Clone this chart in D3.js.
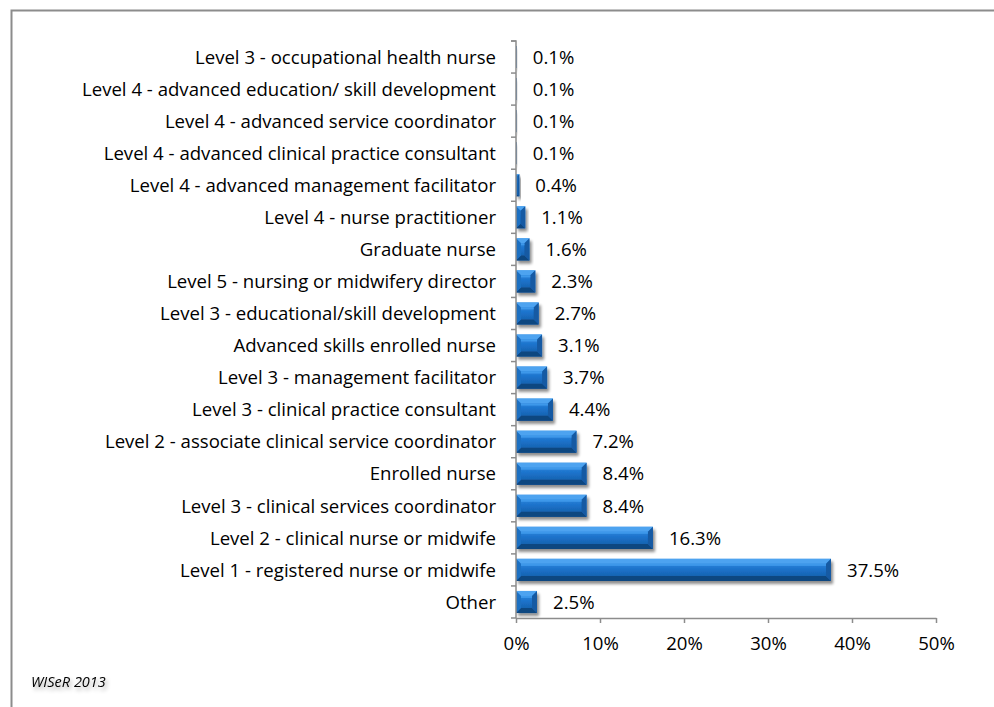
<!DOCTYPE html>
<html>
<head>
<meta charset="utf-8">
<script src="https://cdn.jsdelivr.net/npm/d3@7"></script>
<style>
  body { margin: 0; background: #fff; }
  text { font-family: "Open Sans", "Noto Sans", sans-serif; }
</style>
</head>
<body>
<div id="chart"></div>
<script>
// Data (top to bottom, as shown)

let categories = [
  "Level 3 - occupational health nurse",
  "Level 4 - advanced education/ skill development",
  "Level 4 - advanced service coordinator",
  "Level 4 - advanced clinical practice consultant",
  "Level 4 - advanced management facilitator",
  "Level 4 - nurse practitioner",
  "Graduate nurse",
  "Level 5 - nursing or midwifery director",
  "Level 3 - educational/skill development",
  "Advanced skills enrolled nurse",
  "Level 3 - management facilitator",
  "Level 3 - clinical practice consultant",
  "Level 2 - associate clinical service coordinator",
  "Enrolled nurse",
  "Level 3 - clinical services coordinator",
  "Level 2 - clinical nurse or midwife",
  "Level 1 - registered nurse or midwife",
  "Other"
];
let values = [0.1, 0.1, 0.1, 0.1, 0.4, 1.1, 1.6, 2.3, 2.7, 3.1, 3.7, 4.4, 7.2, 8.4, 8.4, 16.3, 37.5, 2.5];
let x_ticks = [0, 10, 20, 30, 40, 50];
let source_note = "WISeR 2013";

// Canvas

let width = 994;
let height = 707;
let plot = { left: 516, right: 936, top: 41, bottom: 618 };
let font_size = 18.6;

let svg = d3.select('#chart')
  .append('svg')
  .attr('width', width)
  .attr('height', height);

// chart border (only top and left visible)
svg.append('path')
  .attr('d', `M11.5,${height} L11.5,10.5 L${width},10.5`)
  .attr('fill', 'none')
  .attr('stroke', '#8c8c8c')
  .attr('stroke-width', 2);

// gradients and shadow
let defs = svg.append('defs');
let grad = defs.append('linearGradient')
  .attr('id', 'barface').attr('x1', 0).attr('y1', 0).attr('x2', 0).attr('y2', 1);
grad.append('stop').attr('offset', '0%').attr('stop-color', '#3a93e6');
grad.append('stop').attr('offset', '45%').attr('stop-color', '#1c73cc');
grad.append('stop').attr('offset', '100%').attr('stop-color', '#14599f');

let shadow = defs.append('filter').attr('id', 'shadow')
  .attr('x', '-20%').attr('y', '-30%').attr('width', '150%').attr('height', '180%');
shadow.append('feGaussianBlur').attr('in', 'SourceAlpha').attr('stdDeviation', 1.8);
shadow.append('feOffset').attr('dx', 2).attr('dy', 3).attr('result', 'b');
shadow.append('feComponentTransfer').append('feFuncA').attr('type', 'linear').attr('slope', 0.45);
let merge = shadow.append('feMerge');
merge.append('feMergeNode');
merge.append('feMergeNode').attr('in', 'SourceGraphic');

let textShadow = defs.append('filter').attr('id', 'tshadow')
  .attr('x', '-20%').attr('y', '-40%').attr('width', '150%').attr('height', '200%');
textShadow.append('feGaussianBlur').attr('in', 'SourceAlpha').attr('stdDeviation', 2);
textShadow.append('feOffset').attr('dx', 2).attr('dy', 3);
textShadow.append('feComponentTransfer').append('feFuncA').attr('type', 'linear').attr('slope', 0.35);
let tmerge = textShadow.append('feMerge');
tmerge.append('feMergeNode');
tmerge.append('feMergeNode').attr('in', 'SourceGraphic');

// Scales

let scale_x = d3.scaleLinear()
  .domain([0, 50])
  .range([plot.left, plot.right]);

let scale_y = d3.scaleBand()
  .domain(categories)
  .range([plot.top, plot.bottom])
  .paddingInner(0.31)
  .paddingOuter(0.155);

// Bars with bevel

let bars = svg.append('g').selectAll('g.bar')
  .data(categories.map((c, i) => ({ c: c, v: values[i] })))
  .enter()
  .append('g')
  .attr('class', 'bar')
  .attr('filter', 'url(#shadow)');

bars.each(function (d) {
  let g = d3.select(this);
  let x0 = scale_x(0);
  let x1 = scale_x(d.v);
  let y0 = scale_y(d.c);
  let h = scale_y.bandwidth();
  let y1 = y0 + h;
  let w = x1 - x0;
  let b = Math.min(5, w / 2, h / 2);

  g.append('rect')
    .attr('x', x0).attr('y', y0)
    .attr('width', w).attr('height', h)
    .attr('fill', 'url(#barface)');

  if (w < 2) {
    g.select('rect').attr('fill', '#2a6fb8');
    return;
  }
  // top bevel
  g.append('polygon')
    .attr('points', [[x0, y0], [x1, y0], [x1 - b, y0 + b], [x0 + b, y0 + b]].join(' '))
    .attr('fill', '#4da3f0');
  // bottom bevel
  g.append('polygon')
    .attr('points', [[x0, y1], [x1, y1], [x1 - b, y1 - b], [x0 + b, y1 - b]].join(' '))
    .attr('fill', '#0f4680');
  // left bevel
  g.append('polygon')
    .attr('points', [[x0, y0], [x0 + b, y0 + b], [x0 + b, y1 - b], [x0, y1]].join(' '))
    .attr('fill', '#1e6fc2');
  // right bevel
  g.append('polygon')
    .attr('points', [[x1, y0], [x1 - b, y0 + b], [x1 - b, y1 - b], [x1, y1]].join(' '))
    .attr('fill', '#155aa3');
  // bright line on face
  g.append('rect')
    .attr('x', x0 + b).attr('y', y0 + b)
    .attr('width', Math.max(0, w - 2 * b)).attr('height', 2)
    .attr('fill', '#3e98ea');
});

// Value labels

svg.append('g').selectAll('text')
  .data(values)
  .enter()
  .append('text')
  .text(d => d.toFixed(1) + '%')
  .attr('x', d => scale_x(d) + 16)
  .attr('y', (d, i) => scale_y(categories[i]) + scale_y.bandwidth() / 2)
  .attr('dy', '0.36em')
  .attr('font-size', font_size)
  .attr('fill', '#000');

// Axes

let axis_y = d3.axisLeft(scale_y).tickSize(5).tickSizeOuter(0).tickPadding(14);
let gy = svg.append('g')
  .attr('transform', `translate(${plot.left},0)`)
  .call(axis_y);
gy.select('.domain').attr('stroke', '#8c8c8c').attr('stroke-width', 1.5)
  .attr('d', `M-5,${plot.top}H0V${plot.bottom}`);
gy.selectAll('.tick').remove();
// Excel-style ticks on band boundaries
let band_edges = d3.range(categories.length + 1).map(i => plot.top + i * (plot.bottom - plot.top) / categories.length);
gy.selectAll('line.edge')
  .data(band_edges)
  .enter()
  .append('line')
  .attr('class', 'edge')
  .attr('x1', -5).attr('x2', 0)
  .attr('y1', d => d).attr('y2', d => d)
  .attr('stroke', '#8c8c8c').attr('stroke-width', 1.5);
gy.selectAll('text.cat')
  .data(categories)
  .enter()
  .append('text')
  .attr('class', 'cat')
  .text(d => d)
  .attr('x', -20)
  .attr('y', d => scale_y(d) + scale_y.bandwidth() / 2)
  .attr('dy', '0.36em')
  .attr('text-anchor', 'end')
  .attr('font-size', font_size)
  .attr('fill', '#000');

let axis_x = d3.axisBottom(scale_x)
  .tickValues(x_ticks)
  .tickFormat(d => d + '%')
  .tickSize(5)
  .tickSizeOuter(0)
  .tickPadding(14);
let gx = svg.append('g')
  .attr('transform', `translate(0,${plot.bottom})`)
  .call(axis_x);
gx.select('.domain').attr('stroke', '#8c8c8c').attr('stroke-width', 1.5);
gx.selectAll('.tick line').attr('stroke', '#8c8c8c').attr('stroke-width', 1.5);
gx.selectAll('.tick text')
  .attr('font-size', font_size)
  .attr('font-family', '"Open Sans", "Noto Sans", sans-serif')
  .attr('fill', '#000');

// Source note

svg.append('text')
  .text(source_note)
  .attr('x', 31)
  .attr('y', 687)
  .attr('font-size', 14.5)
  .attr('font-style', 'italic')
  .attr('fill', '#000')
  .attr('filter', 'url(#tshadow)');
</script>
</body>
</html>
